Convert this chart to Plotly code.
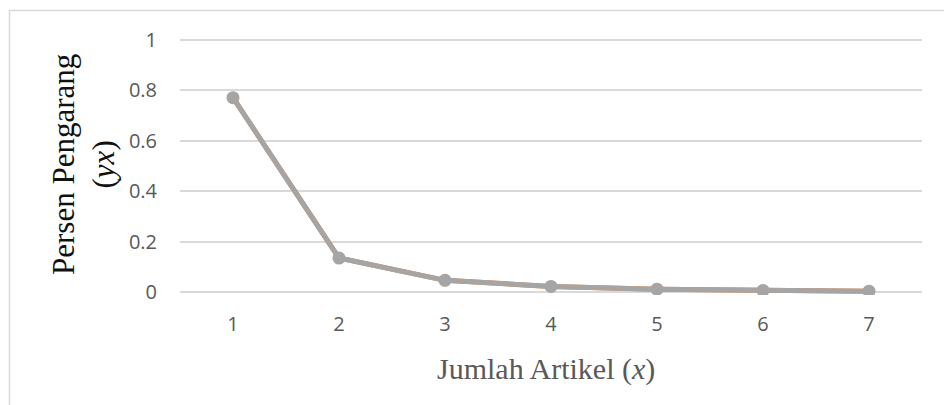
import plotly.graph_objects as go

categories = ["1", "2", "3", "4", "5", "6", "7"]
values_a = [0.77, 0.136, 0.048, 0.024, 0.013, 0.008, 0.005]
values_b = [0.77, 0.136, 0.048, 0.024, 0.013, 0.008, 0.005]
y_ticks = [0, 0.2, 0.4, 0.6, 0.8, 1]
y_tick_text = ["0", "0.2", "0.4", "0.6", "0.8", "1"]

W, H = 944, 405
PAD = 0.01
top_px, bot_px = 40, 292
unit = (bot_px - top_px) / 1.0
T = top_px - PAD * unit
B = H - (bot_px + PAD * unit)
L, R = 180, 22
pw, ph = W - L - R, H - T - B

def px_x(p):
    return (p - L) / pw

def px_y(p):
    return (H - B - p) / ph

fig = go.Figure()
fig.add_trace(go.Scatter(x=categories, y=values_b, mode="lines+markers",
                         line=dict(color="#ED7D31", width=5),
                         marker=dict(size=12, color="#ED7D31"),
                         hoverinfo="skip", showlegend=False))
fig.add_trace(go.Scatter(x=categories, y=values_a, mode="lines+markers",
                         line=dict(color="#A5A5A5", width=5),
                         marker=dict(size=13, color="#A5A5A5"),
                         showlegend=False))

fig.update_layout(
    width=W, height=H,
    margin=dict(l=L, r=R, t=T, b=B, pad=0),
    paper_bgcolor="white", plot_bgcolor="white",
    font=dict(family="Open Sans, Liberation Sans, sans-serif", color="#595959", size=20),
    xaxis=dict(type="category", range=[-0.5, 6.5], showgrid=False, zeroline=False,
               showline=False, ticks="", ticklabelstandoff=15,
               tickfont=dict(size=20, color="#595959")),
    yaxis=dict(range=[-PAD, 1 + PAD], tickvals=y_ticks, ticktext=y_tick_text,
               showgrid=True, gridcolor="#D9D9D9", gridwidth=1.5,
               zeroline=False, showline=False, ticks="", ticklabelstandoff=22,
               tickfont=dict(size=20, color="#595959")),
    shapes=[dict(type="rect", xref="paper", yref="paper",
                 x0=px_x(9.5), x1=px_x(960), y0=px_y(430), y1=px_y(11),
                 line=dict(color="#D9D9D9", width=1.5), fillcolor="rgba(0,0,0,0)", layer="below")],
    annotations=[
        dict(text="Persen Pengarang<br>(<i>yx</i>)", textangle=-90, showarrow=False,
             xref="paper", yref="paper", x=px_x(84), y=px_y(165),
             xanchor="center", yanchor="middle",
             font=dict(family="Liberation Serif, Times New Roman, serif", size=31, color="#111111")),
        dict(text="Jumlah Artikel (<i>x</i>)", showarrow=False,
             xref="paper", yref="paper", x=px_x(546), y=px_y(368),
             xanchor="center", yanchor="middle",
             font=dict(family="Liberation Serif, Times New Roman, serif", size=30, color="#595959")),
    ],
)

fig.write_html("out.html", config={"displayModeBar": False},
               post_script="document.body.style.margin='0';")
